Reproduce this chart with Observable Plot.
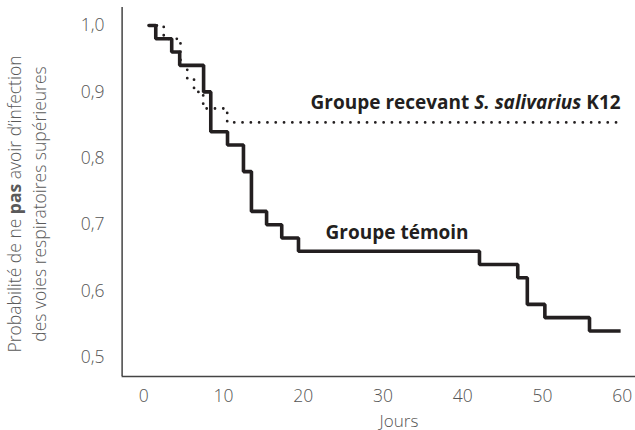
<!DOCTYPE html>
<html><head><meta charset="utf-8">
<script src="https://cdn.jsdelivr.net/npm/d3@7"></script>
<script src="https://cdn.jsdelivr.net/npm/@observablehq/plot@0.6"></script>
<style>body{margin:0;background:#fff} #chart svg{display:block}</style>
</head><body><div id="chart"></div>
<script>
// Data (Kaplan-Meier style step curves)
const controlDays = [0.6, 1.5, 3.5, 4.5, 7.5, 8.4, 10.5, 12.5, 13.5, 15.4, 17.3, 19.4, 42.1, 46.9, 48.1, 50.3, 55.9, 59.8];
const controlSurv = [1.0, 0.98, 0.96, 0.94, 0.90, 0.84, 0.82, 0.78, 0.72, 0.70, 0.68, 0.66, 0.64, 0.62, 0.58, 0.56, 0.54, 0.54];
const k12Days = [0.6, 2.5, 4.6, 5.45, 6.3, 7.45, 10.46, 60];
const k12Surv = [1.0, 0.98, 0.94, 0.92, 0.90, 0.875, 0.854, 0.854];
const xTicks = [0, 10, 20, 30, 40, 50, 60];
const yTicks = [0.5, 0.6, 0.7, 0.8, 0.9, 1.0];
const xLabel = "Jours";
const yTitleLine1 = [["Probabilité de ne ", "normal"], ["pas", "bold"], [" avoir d’infection", "normal"]];
const yTitleLine2 = "des voies respiratoires supérieures";
const k12Label = [["Groupe recevant ", "normal"], ["S. salivarius", "italic"], [" K12", "normal"]];
const controlLabel = "Groupe témoin";

const control = controlDays.map((d, i) => ({day: d, p: controlSurv[i]}));
const k12 = k12Days.map((d, i) => ({day: d, p: k12Surv[i]}));
const join = parts => parts.map(p => p[0]).join("");

const ink = "#231f20";
const axisInk = "#444";
const font = "'Open Sans', sans-serif";

const chart = Plot.plot({
  width: 635, height: 430,
  marginLeft: 122, marginRight: 0, marginTop: 7, marginBottom: 53,
  style: {fontFamily: font, background: "#fff", overflow: "visible"},
  x: {domain: [0, 60], range: [143.3, 621.7]},
  y: {domain: [0.5, 1.0], range: [357, 25]},
  marks: [
    Plot.ruleX([-2.72], {y1: 0.4714, y2: 1.027, stroke: axisInk, strokeWidth: 1.5}),
    Plot.ruleY([0.4714], {x1: -2.72, x2: 61.8, stroke: axisInk, strokeWidth: 1.5}),
    Plot.axisY({ticks: yTicks, tickSize: 0, tickPadding: 18, label: null, fontSize: 17.5, fontWeight: 300, fill: "#555",
      tickFormat: d => d.toFixed(1).replace(".", ",")}),
    Plot.axisX({ticks: xTicks, tickSize: 0, tickPadding: 12, label: null, fontSize: 17.5, fontWeight: 300, fill: "#555"}),
    Plot.text([xLabel], {x: 32, frameAnchor: "bottom", dy: 49, lineAnchor: "bottom", fontSize: 17, fontWeight: 300, fill: "#555"}),
    Plot.text([join(yTitleLine1)], {frameAnchor: "left", textAnchor: "middle", lineAnchor: "bottom", rotate: -90, dx: -101.5, dy: 11.5, fontSize: 17.5, fontWeight: 300, fill: "#5a5a5a", className: "ytitle1"}),
    Plot.text([yTitleLine2], {frameAnchor: "left", textAnchor: "middle", lineAnchor: "bottom", rotate: -90, dx: -77, dy: 11.5, fontSize: 17.5, fontWeight: 300, fill: "#5a5a5a"}),
    Plot.line(k12, {x: "day", y: "p", curve: "step-after", stroke: ink, strokeWidth: 2.8, strokeDasharray: "0 8.3", strokeLinecap: "round"}),
    Plot.line(control, {x: "day", y: "p", curve: "step-after", stroke: ink, strokeWidth: 3.6, strokeLinecap: "butt", strokeLinejoin: "miter"}),
    Plot.text([join(k12Label)], {x: 59.8, y: 0.8745, textAnchor: "end", lineAnchor: "bottom", fontSize: 19, fontWeight: "bold", fill: ink, className: "k12label"}),
    Plot.text([controlLabel], {x: 22.8, y: 0.6788, textAnchor: "start", lineAnchor: "bottom", fontSize: 19, fontWeight: "bold", fill: ink})
  ]
});

function richify(sel, parts) {
  sel.each(function() {
    const t = d3.select(this);
    t.text(null);
    for (const [s, style] of parts) {
      const ts = t.append("tspan").text(s);
      if (style === "bold") ts.attr("font-weight", "bold");
      if (style === "italic") ts.attr("font-style", "italic");
    }
  });
}
richify(d3.select(chart).selectAll(".ytitle1 text"), yTitleLine1);
richify(d3.select(chart).selectAll(".k12label text"), k12Label);

document.getElementById("chart").appendChild(chart);
</script>
</body></html>
